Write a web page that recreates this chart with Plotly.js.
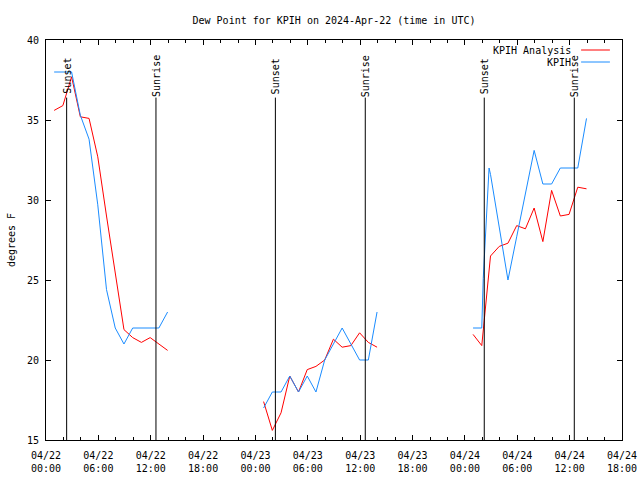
<!DOCTYPE html>
<html>
<head>
<meta charset="utf-8">
<script src="https://cdn.plot.ly/plotly-3.0.1.min.js"></script>
<style>html,body{margin:0;padding:0;background:#fff;}#chart{width:640px;height:480px;}</style>
</head>
<body>
<div id="chart"></div>
<script>
// ---- data ----
const obsTimesDay1 = ['2024-04-22 00:56','2024-04-22 01:56','2024-04-22 02:56','2024-04-22 03:56','2024-04-22 04:56','2024-04-22 05:56','2024-04-22 06:56','2024-04-22 07:56','2024-04-22 08:56','2024-04-22 09:56','2024-04-22 10:56','2024-04-22 11:56','2024-04-22 12:56','2024-04-22 13:56'];
const obsDewDay1 = [38, 38, 38, 35.3, 33.8, 29.7, 24.4, 22, 21, 22, 22, 22, 22, 23];
const anaDewDay1 = [35.6, 35.9, 37.7, 35.2, 35.1, 32.7, 29.0, 25.4, 21.9, 21.4, 21.1, 21.4, 21.0, 20.6];

const obsTimesDay2 = ['2024-04-23 00:56','2024-04-23 01:56','2024-04-23 02:56','2024-04-23 03:56','2024-04-23 04:56','2024-04-23 05:56','2024-04-23 06:56','2024-04-23 07:56','2024-04-23 08:56','2024-04-23 09:56','2024-04-23 10:56','2024-04-23 11:56','2024-04-23 12:56','2024-04-23 13:56'];
const obsDewDay2 = [17, 18, 18, 19, 18, 19, 18, 20, 21, 22, 21, 20, 20, 23];
const anaDewDay2 = [17.4, 15.6, 16.7, 19.0, 18.0, 19.4, 19.6, 20.0, 21.3, 20.8, 20.9, 21.7, 21.1, 20.8];

const anaTimesDay3 = ['2024-04-24 00:56','2024-04-24 01:56','2024-04-24 02:56','2024-04-24 03:56','2024-04-24 04:56','2024-04-24 05:56','2024-04-24 06:56','2024-04-24 07:56','2024-04-24 08:56','2024-04-24 09:56','2024-04-24 10:56','2024-04-24 11:56','2024-04-24 12:56','2024-04-24 13:56'];
const anaDewDay3 = [21.6, 20.9, 26.5, 27.1, 27.3, 28.4, 28.2, 29.5, 27.4, 30.6, 29.0, 29.1, 30.8, 30.7];
const obsTimesDay3 = ['2024-04-24 00:56','2024-04-24 01:56','2024-04-24 02:06','2024-04-24 02:46','2024-04-24 02:56','2024-04-24 03:56','2024-04-24 04:56','2024-04-24 05:56','2024-04-24 06:56','2024-04-24 07:56','2024-04-24 08:56','2024-04-24 09:56','2024-04-24 10:56','2024-04-24 11:56','2024-04-24 12:56','2024-04-24 13:56'];
const obsDewDay3 = [22, 22, 25.1, 32.0, 31.6, 28.3, 25, 27.7, 30.4, 33.1, 31, 31, 32, 32, 32, 35.1];

const sunTimes = ['2024-04-22 02:22','2024-04-22 12:36','2024-04-23 02:17','2024-04-23 12:35','2024-04-24 02:13','2024-04-24 12:32'];
const sunLabels = ['Sunset','Sunrise','Sunset','Sunrise','Sunset','Sunrise'];
const sunLineTop = 36.4;
const sunLabelY = 37.75;

const seriesNames = ['KPIH Analysis', 'KPIH'];
const seriesColors = ['#ff0000', '#1a8cff'];

const titleText = 'Dew Point for KPIH on 2024-Apr-22 (time in UTC)';
const yTitle = 'degrees F';

// ---- build ----
function joinDays(parts) {
  const out = [];
  parts.forEach((p, i) => { if (i) out.push(null); out.push(...p); });
  return out;
}
const anaX = joinDays([obsTimesDay1, obsTimesDay2, anaTimesDay3]);
const anaY = joinDays([anaDewDay1, anaDewDay2, anaDewDay3]);
const obsX = joinDays([obsTimesDay1, obsTimesDay2, obsTimesDay3]);
const obsY = joinDays([obsDewDay1, obsDewDay2, obsDewDay3]);

const FONT = 'DejaVu Sans Mono, monospace';

const traces = [
  {x: anaX, y: anaY, type: 'scatter', mode: 'lines', name: seriesNames[0],
   line: {color: seriesColors[0], width: 1}, connectgaps: false, showlegend: false},
  {x: obsX, y: obsY, type: 'scatter', mode: 'lines', name: seriesNames[1],
   line: {color: seriesColors[1], width: 1}, connectgaps: false, showlegend: false}
];

const shapes = sunTimes.map(t => ({
  type: 'line', xref: 'x', yref: 'y', x0: t, x1: t, y0: 15, y1: sunLineTop,
  line: {color: '#000', width: 1}
}));
const annotations = sunTimes.map((t, i) => ({
  x: t, y: sunLabelY, xref: 'x', yref: 'y', text: sunLabels[i], textangle: -90,
  showarrow: false, xanchor: 'center', yanchor: 'middle',
  font: {family: FONT, size: 10, color: '#000'}
}));

// gnuplot-style legend: text right aligned, line sample on right
const legRows = [0.975, 0.945];
seriesNames.forEach((n, i) => {
  annotations.push({x: 0.915, y: legRows[i], xref: 'paper', yref: 'paper', text: n,
    showarrow: false, xanchor: 'right', yanchor: 'middle',
    font: {family: FONT, size: 10, color: '#000'}});
  shapes.push({type: 'line', xref: 'paper', yref: 'paper', x0: 0.929, x1: 0.979,
    y0: legRows[i], y1: legRows[i], line: {color: seriesColors[i], width: 1}});
});

const layout = {
  width: 640, height: 480,
  margin: {l: 46, r: 18, t: 40, b: 40, pad: 0},
  paper_bgcolor: '#fff', plot_bgcolor: '#fff',
  font: {family: FONT, size: 10, color: '#000'},
  title: {text: titleText, x: 0.5, xref: 'paper', y: 1 - 20/480, yanchor: 'middle',
          font: {family: FONT, size: 10, color: '#000'}},
  showlegend: false,
  xaxis: {
    type: 'date', range: ['2024-04-22 00:00', '2024-04-24 18:00'],
    tick0: '2024-04-22 00:00', dtick: 6*3600*1000, tickformat: '%m/%d<br>%H:%M',
    ticks: 'inside', ticklen: 5, tickcolor: '#000', tickwidth: 1,
    ticklabelstandoff: 6,
    minor: {dtick: 2*3600*1000, ticks: 'inside', ticklen: 3, tickcolor: '#000', showgrid: false},
    showline: true, linecolor: '#000', linewidth: 1, mirror: 'ticks',
    showgrid: false, zeroline: false, fixedrange: true,
    tickfont: {family: FONT, size: 10, color: '#000'}
  },
  yaxis: {
    range: [15, 40], dtick: 5, tick0: 15,
    ticks: 'inside', ticklen: 5, tickcolor: '#000', tickwidth: 1,
    ticklabelstandoff: 4,
    showline: true, linecolor: '#000', linewidth: 1, mirror: 'ticks',
    showgrid: false, zeroline: false, fixedrange: true,
    tickfont: {family: FONT, size: 10, color: '#000'},
    title: {text: yTitle, standoff: 9, font: {family: FONT, size: 10, color: '#000'}}
  },
  shapes: shapes,
  annotations: annotations
};

Plotly.newPlot('chart', traces, layout, {staticPlot: true, displayModeBar: false});
</script>
</body>
</html>
